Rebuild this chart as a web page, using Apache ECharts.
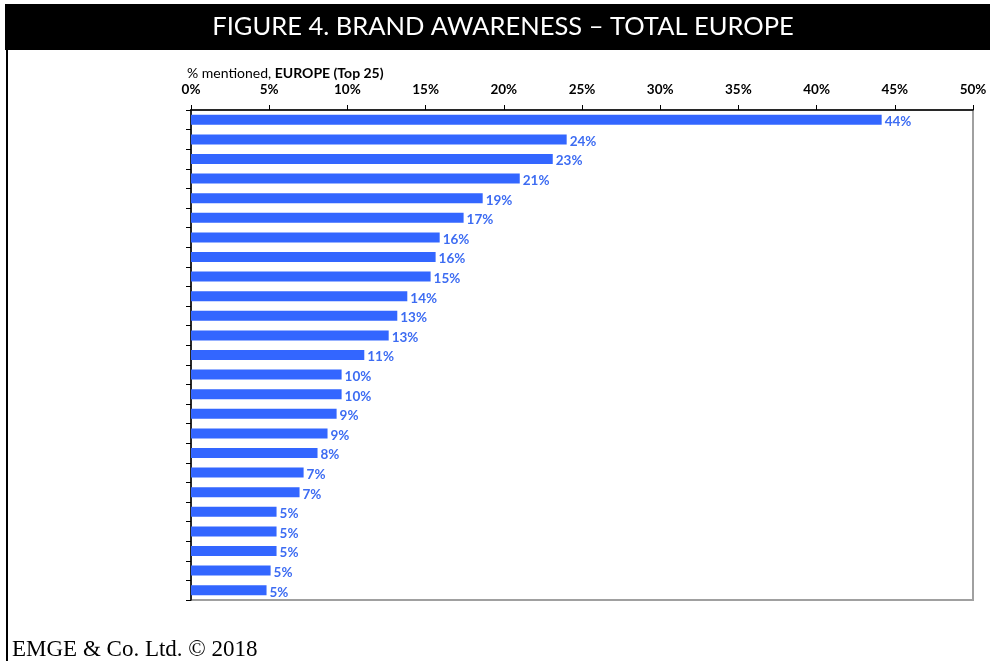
<!DOCTYPE html>
<html>
<head>
<meta charset="utf-8">
<script src="https://cdn.jsdelivr.net/npm/echarts@6/dist/echarts.min.js"></script>
<style>
  html, body { margin: 0; padding: 0; background: #fff; }
  #chart { width: 990px; height: 661px; }
</style>
</head>
<body>
<div id="chart"></div>
<script>
// Brand ranks (top 25), awareness share in percent
var ranks = ['1','2','3','4','5','6','7','8','9','10','11','12','13','14','15','16','17','18','19','20','21','22','23','24','25'];
var awareness = [44.16, 24.02, 23.13, 21.02, 18.65, 17.43, 15.90, 15.64, 15.32, 13.83, 13.19, 12.64, 11.08, 9.63, 9.63, 9.31, 8.73, 8.09, 7.20, 6.94, 5.47, 5.47, 5.47, 5.09, 4.83];
var axisTicks = [0, 5, 10, 15, 20, 25, 30, 35, 40, 45, 50];

var titleText = 'FIGURE 4. BRAND AWARENESS \u2013 TOTAL EUROPE';
var footerText = 'EMGE & Co. Ltd. \u00A9 2018';

var chart = echarts.init(document.getElementById('chart'), null, { renderer: 'canvas' });

chart.setOption({
  animation: false,
  backgroundColor: '#ffffff',
  grid: {
    left: 191, right: 17, top: 110, bottom: 61,
    show: true, borderColor: '#a0a0a0', borderWidth: 2, backgroundColor: 'transparent'
  },
  xAxis: {
    type: 'value',
    position: 'top',
    min: axisTicks[0],
    max: axisTicks[axisTicks.length - 1],
    interval: 5,
    splitLine: { show: false },
    axisLine: { show: true, lineStyle: { color: '#000', width: 1.5 } },
    axisTick: { show: true, length: 5, lineStyle: { color: '#000' } },
    axisLabel: {
      margin: 13,
      formatter: '{value}%',
      fontFamily: 'Lato', fontWeight: 'bold', fontSize: 13.5, color: '#000'
    }
  },
  yAxis: {
    type: 'category',
    data: ranks,
    inverse: true,
    axisLine: { show: true, lineStyle: { color: '#000', width: 1.5 } },
    axisTick: { show: true, length: 5, alignWithLabel: false, lineStyle: { color: '#000' } },
    axisLabel: { show: false },
    splitLine: { show: false }
  },
  series: [{
    type: 'bar',
    data: awareness,
    barWidth: 10,
    itemStyle: { color: '#3366ff' },
    label: {
      show: true,
      position: 'right',
      distance: 3,
      offset: [0, 2],
      formatter: function (p) { return Math.round(p.value) + '%'; },
      fontFamily: 'Lato', fontWeight: 'bold', fontSize: 13.5, color: '#3d6cf2'
    }
  }],
  graphic: [
    { type: 'rect', shape: { x: 5, y: 4, width: 985, height: 46 }, style: { fill: '#000' } },
    { type: 'text', x: 503, y: 27, style: {
        text: titleText, fill: '#fff', font: '25.5px Lato',
        textAlign: 'center', textVerticalAlign: 'middle' } },
    { type: 'rect', shape: { x: 6, y: 50, width: 2, height: 611 }, style: { fill: '#000' } },
    { type: 'text', x: 187, y: 73, style: {
        rich: {
          n: { font: '14px Lato', fill: '#000' },
          b: { font: 'bold 14px Lato', fill: '#000' }
        },
        text: '{n|% mentioned, }{b|EUROPE (Top 25)}',
        textVerticalAlign: 'middle' } },
    { type: 'text', x: 12, y: 650, style: {
        text: footerText, fill: '#000', font: '23px "Liberation Serif"',
        textVerticalAlign: 'middle' } }
  ]
});
</script>
</body>
</html>
